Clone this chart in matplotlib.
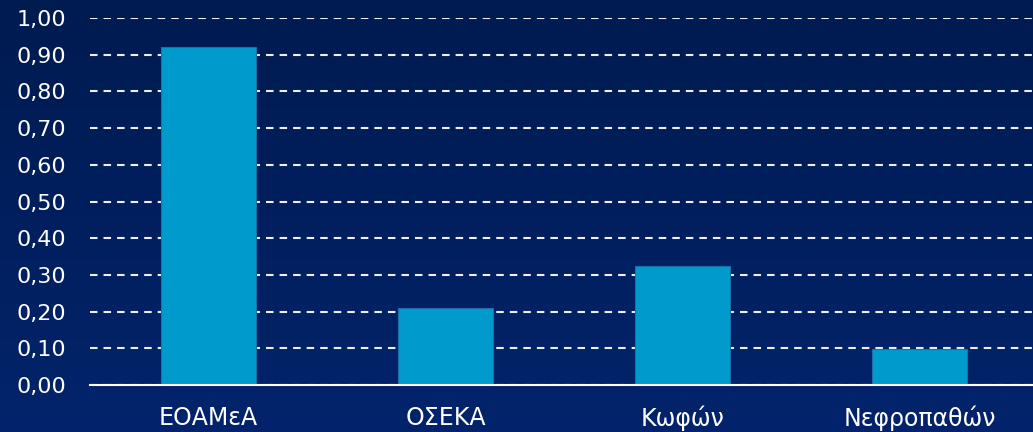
import numpy as np
import matplotlib.pyplot as plt
from matplotlib.colors import LinearSegmentedColormap

categories = ['ΕΟΑΜεΑ', 'ΟΣΕΚΑ', 'Κωφών', 'Νεφροπαθών']
values = [0.92, 0.21, 0.325, 0.098]
yticks = [0.0, 0.1, 0.2, 0.3, 0.4, 0.5, 0.6, 0.7, 0.8, 0.9, 1.0]

plt.rcParams['font.family'] = ['DejaVu Sans']

fig = plt.figure(figsize=(10.33, 4.32), dpi=100)

# background gradient (dark navy, slightly lighter towards bottom)
bg = fig.add_axes([0, 0, 1, 1], zorder=0)
cmap = LinearSegmentedColormap.from_list('bg', ['#001b50', '#011f5e', '#03246c'])
grad = np.linspace(0, 1, 256).reshape(-1, 1)
bg.imshow(grad, aspect='auto', cmap=cmap, extent=[0, 1, 0, 1], origin='upper')
bg.axis('off')

ax = fig.add_axes([90 / 1033, 47 / 432, 948 / 1033, 367 / 432], zorder=1)
ax.patch.set_alpha(0)

x = np.arange(len(categories))
ax.bar(x, values, width=0.4, color='#009bcc', edgecolor='#1a6fa8', linewidth=0.8, zorder=3)

ax.set_xlim(-0.5, 3.5)
ax.set_ylim(0, 1.0)
ax.set_yticks(yticks)
ax.set_yticklabels([f'{v:.2f}'.replace('.', ',') for v in yticks])
ax.set_xticks(x)
ax.set_xticklabels(categories)

ax.yaxis.grid(True, color='#eef0f6', linestyle=(0, (3.6, 2.9)), linewidth=1.5, zorder=1)
ax.set_axisbelow(True)
for s in ['left', 'right', 'top']:
    ax.spines[s].set_visible(False)
ax.spines['bottom'].set_color('white')
ax.spines['bottom'].set_linewidth(1.5)
ax.spines['bottom'].set_zorder(4)

ax.tick_params(axis='y', length=0, pad=17, labelsize=16, labelcolor='white')
ax.tick_params(axis='x', length=0, pad=15, labelsize=17, labelcolor='white')

fig.savefig('out.png', dpi=100)
